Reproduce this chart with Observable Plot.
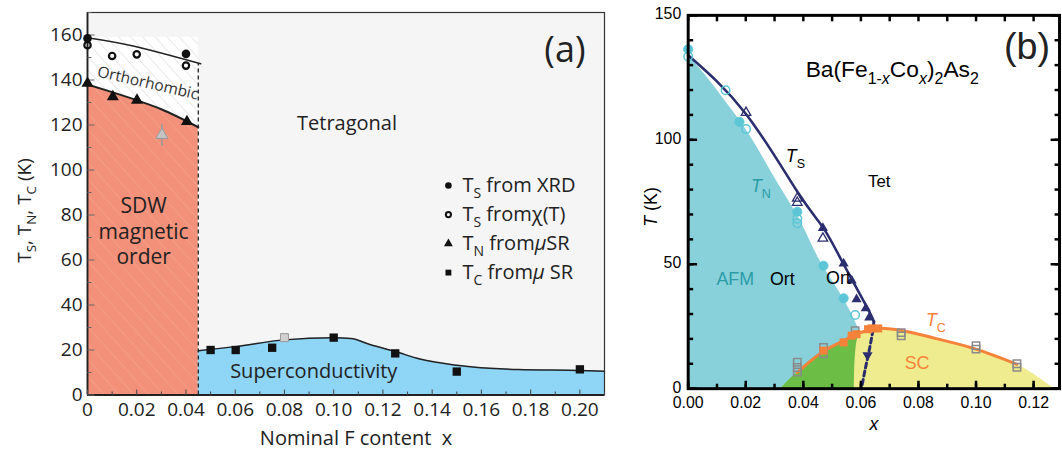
<!DOCTYPE html>
<html>
<head>
<meta charset="utf-8">
<script src="https://cdn.jsdelivr.net/npm/d3@7"></script>
<script src="https://cdn.jsdelivr.net/npm/@observablehq/plot@0.6"></script>
<style>
  html, body { margin: 0; padding: 0; background: #fff; overflow: hidden; width: 1062px; height: 452px; }
  #panel-a { position: absolute; left: 0; top: 0; }
  #panel-b { position: absolute; left: 620px; top: 0; }
</style>
</head>
<body>
<div id="panel-a"></div>
<div id="panel-b"></div>
<script>
// ---------------- Panel (a): nominal F content ----------------
// measured transition temperatures [x, T]
const tsXrdA   = [[0, 158.5], [0.04, 151.6]];
const tsChiA   = [[0, 155.5], [0.01, 150.7], [0.02, 151.4], [0.04, 146.4]];
const tnMuSrA  = [[0, 138.5], [0.0103, 132.6], [0.0201, 131], [0.0404, 121.5]];
const tnGrayA  = [[0.0302, 115.6, 110.4, 120.2]];   // x, T, lower, upper
const tcMuSrA  = [[0.05, 20], [0.0602, 20], [0.075, 21], [0.1, 25.5], [0.125, 18.5], [0.15, 10.4], [0.2, 11.4]];
const tcGrayA  = [[0.08, 25.5]];
// phase boundaries [x, T]
const tsLineA  = [[0, 158.8], [0.019, 155], [0.046, 147.2]];
const tnLineA  = [[0, 138], [0.01, 134.6], [0.02, 131], [0.03, 127], [0.045, 119]];
const tcLineA  = [[0.045, 19.7], [0.06, 21.5], [0.08, 24.5], [0.1, 25.4], [0.107, 25.1], [0.115, 22.3],
                  [0.125, 19.3], [0.135, 16], [0.15, 13.2], [0.175, 11.3], [0.2, 10.9], [0.21, 10.6]];
const sdwLimitA = 0.045;   // end of the magnetic region
const orthoTopA = 159;     // top of the orthorhombic region
const legendLabelsA = ["T_{S} from XRD", "T_{S} fromχ(T)", "T_{N} from*μ*SR", "T_{C} from*μ* SR"];
const legendSymbolsA = ["circle", "circle", "triangle", "square"];
const xTicksA = d3.range(0, 0.2001, 0.02);
const yTicksA = d3.range(0, 161, 20);

// ---------------- Panel (b): Ba(Fe1-xCox)2As2 ----------------
const tsLineB   = [[0, 134], [0.02, 110.5], [0.038, 79], [0.047, 64.5], [0.054, 50], [0.062, 33], [0.0645, 27]];
const tsDashB   = [[0.0645, 27], [0.0643, 24.6], [0.0631, 16.6], [0.0614, 7.3], [0.0602, 0]];
const tnEdgeB   = [[0, 0.0577], [8, 0.0578], [15, 0.0583], [22, 0.0597], [25, 0.0588], [28.6, 0.0574],
                   [37.2, 0.0534], [51.2, 0.0459], [68.4, 0.0385], [81.7, 0.0316], [108, 0.0178],
                   [116, 0.0126], [125.5, 0.0063], [134, 0]];            // [T, x]
const scDomeB   = [[0.0321, 0], [0.0379, 6.5], [0.047, 15], [0.054, 19.3], [0.0585, 21.9], [0.063, 23.6],
                   [0.067, 24.3], [0.074, 23.4], [0.0866, 20], [0.1, 15.9], [0.1142, 9.8], [0.1272, 0]];
const tcLineB   = scDomeB.slice(1, -1);
const coexB     = [[0, 0.0321, 0.0577], [6.5, 0.0379, 0.0578], [15, 0.047, 0.0582], [19.3, 0.054, 0.0587],
                   [21.9, 0.0585, 0.0594], [22.6, 0.0597, 0.0597]];   // [T, xLeft, xRight]
const tsUpFilledB = [[0.0468, 64.5], [0.054, 50.3], [0.0568, 43.4], [0.0585, 35.9], [0.0617, 32.3], [0.0629, 28.6]];
const tsUpOpenB   = [[0.0201, 110.9], [0.0379, 76.5], [0.0379, 74.8], [0.0468, 60.4]];
const tsDownB     = [[0.0623, 13.5]];
const tnFilledB   = [[0, 136.4], [0.0178, 107.2], [0.0379, 71.1], [0.047, 49.4], [0.054, 36.3]];
const tnOpenB     = [[0, 133.5], [0.013, 119.9], [0.0201, 104.3], [0.0379, 68.3], [0.0379, 66.5], [0.058, 29.6]];
const tcFilledB   = [[0.047, 15.3], [0.054, 18.6], [0.0568, 21.3], [0.0585, 21.9], [0.0625, 23.9], [0.0637, 24.2], [0.066, 24.2]];
const tcOpenB     = [[0.0379, 10.6], [0.0379, 8.5], [0.0379, 6.7], [0.047, 16.6], [0.047, 14], [0.058, 23.3],
                     [0.074, 22.5], [0.074, 21.2], [0.1, 17.3], [0.1, 15.9], [0.1142, 10], [0.1142, 8.6]];
const xTicksB = d3.range(0, 0.1201, 0.02);
const yTicksB = [0, 50, 100, 150];

// ---------------- helpers ----------------
const X = d => d[0], Y = d => d[1];
// short stroke drawn from the anchor point, used for inward axis ticks
const tickMark = (dx, dy) => ({ draw(ctx) { ctx.moveTo(0, 0); ctx.lineTo(dx, dy); } });

// turns "*italic*" and "_{sub}" markup in text nodes into tspans
function richText(svg) {
  const NS = "http://www.w3.org/2000/svg";
  d3.select(svg).selectAll("text").each(function () {
    const el = this;
    if (el.querySelector("tspan")) return;
    const s = el.textContent;
    if (!/[*]|_\{/.test(s)) return;
    const fs = parseFloat(getComputedStyle(el).fontSize);
    const runs = []; let sub = false, it = false, buf = "";
    const push = () => { if (buf) runs.push({ t: buf, sub, it }); buf = ""; };
    for (let i = 0; i < s.length; i++) {
      const c = s[i];
      if (c === "_" && s[i + 1] === "{") { push(); sub = true; i++; }
      else if (c === "}" && sub) { push(); sub = false; }
      else if (c === "*") { push(); it = !it; }
      else buf += c;
    }
    push();
    el.textContent = "";
    let shift = 0;
    for (const r of runs) {
      const target = r.sub ? 0.3 * fs : 0;
      const ts = document.createElementNS(NS, "tspan");
      if (target !== shift) ts.setAttribute("dy", target - shift);
      shift = target;
      if (r.sub) ts.setAttribute("font-size", 0.7 * fs);
      if (r.it) ts.setAttribute("font-style", "italic");
      ts.textContent = r.t;
      el.appendChild(ts);
    }
  });
}

function addHatch(svg, id, color, spacing, width) {
  let defs = d3.select(svg).select("defs");
  if (defs.empty()) defs = d3.select(svg).insert("defs", ":first-child");
  const p = defs.append("pattern").attr("id", id)
    .attr("patternUnits", "userSpaceOnUse")
    .attr("width", spacing).attr("height", spacing)
    .attr("patternTransform", "rotate(-42)");
  p.append("line").attr("x1", 0).attr("y1", 0).attr("x2", 0).attr("y2", spacing)
    .attr("stroke", color).attr("stroke-width", width);
}

// ---------------- draw panel (a) ----------------
const salmon = "#f3907a", sky = "#8fd5f5";
const legendX = 0.1466, legendTop = 93.1, legendStep = 12.9;
const legendRows = legendLabelsA.map((label, i) => ({ label, symbol: legendSymbolsA[i], y: legendTop - i * legendStep }));

const plotA = Plot.plot({
  width: 620, height: 452,
  marginLeft: 87, marginRight: 16, marginTop: 12, marginBottom: 57.5,
  x: { domain: [0, 0.21] },
  y: { domain: [0, 170] },
  style: { fontFamily: "'Open Sans', sans-serif", fontSize: "19px", color: "#222", background: "transparent" },
  marks: [
    Plot.frame({ fill: "#f5f5f5" }),
    // orthorhombic region with hatch
    Plot.rect([null], { x1: 0, x2: sdwLimitA, y1: 0, y2: orthoTopA, fill: "white" }),
    Plot.rect([null], { x1: 0, x2: sdwLimitA, y1: 0, y2: orthoTopA, fill: "url(#hatch-ortho)" }),
    // SDW magnetic region
    Plot.areaY(tnLineA, { x: X, y: Y, fill: salmon, curve: "monotone-x" }),
    Plot.areaY(tnLineA, { x: X, y: Y, fill: "url(#hatch-sdw)", curve: "monotone-x" }),
    // superconducting region
    Plot.areaY(tcLineA, { x: X, y: Y, fill: sky, curve: "monotone-x" }),
    // boundaries
    Plot.line(tsLineA, { x: X, y: Y, stroke: "#222", strokeWidth: 1.5, curve: "natural" }),
    Plot.line(tnLineA, { x: X, y: Y, stroke: "#222", strokeWidth: 2, curve: "monotone-x" }),
    Plot.line(tcLineA, { x: X, y: Y, stroke: "#222", strokeWidth: 1.5, curve: "monotone-x" }),
    Plot.ruleX([sdwLimitA], { y1: 0, y2: tsLineA[tsLineA.length - 1][1], stroke: "#222", strokeWidth: 1.3, strokeDasharray: "4,3" }),
    // frame and axis lines
    Plot.frame({ stroke: "#333", strokeWidth: 1.2 }),
    Plot.ruleX([0], { stroke: "#222", strokeWidth: 1.8 }),
    Plot.ruleY([0], { stroke: "#222", strokeWidth: 1.8 }),
    // inward ticks
    Plot.dot(d3.range(0, 171, 20), { y: d => d, frameAnchor: "left", symbol: tickMark(7, 0), fill: "none", stroke: "#666", strokeWidth: 1 }),
    Plot.dot(d3.range(10, 171, 20), { y: d => d, frameAnchor: "left", symbol: tickMark(4, 0), fill: "none", stroke: "#666", strokeWidth: 1 }),
    Plot.dot(d3.range(0, 0.2101, 0.02), { x: d => d, frameAnchor: "bottom", symbol: tickMark(0, -5.5), fill: "none", stroke: "#444", strokeWidth: 1 }),
    Plot.dot(d3.range(0.01, 0.2101, 0.02), { x: d => d, frameAnchor: "bottom", symbol: tickMark(0, -3.5), fill: "none", stroke: "#444", strokeWidth: 1 }),
    // tick labels
    Plot.axisY({ ticks: yTicksA, tickSize: 0, tickPadding: 5, label: null, fontSize: 19 }),
    Plot.axisX({ ticks: xTicksA, tickSize: 0, tickPadding: 7, label: null, fontSize: 19,
                 tickFormat: d => d === 0 ? "0" : d.toFixed(2) }),
    // data points
    Plot.ruleX(tnGrayA, { x: X, y1: d => d[2], y2: d => d[3], stroke: "#999", strokeWidth: 1.5 }),
    Plot.dot(tnGrayA, { x: X, y: Y, symbol: "triangle", r: 4.5, fill: "#c4c4c4", stroke: "#999", strokeWidth: 1 }),
    Plot.dot(tcGrayA, { x: X, y: Y, symbol: "square", r: 4.5, fill: "#d0d0d0", stroke: "#999", strokeWidth: 1 }),
    Plot.dot(tsXrdA, { x: X, y: Y, symbol: "circle", r: 4.3, fill: "#111" }),
    Plot.dot(tsChiA, { x: X, y: Y, symbol: "circle", r: 3.2, fill: "none", stroke: "#111", strokeWidth: 2.2 }),
    Plot.dot(tnMuSrA, { x: X, y: Y, symbol: "triangle", r: 4.5, fill: "#111" }),
    Plot.dot(tcMuSrA, { x: X, y: Y, symbol: "square", r: 4.7, fill: "#111" }),
    // legend
    Plot.dot(legendRows.filter((d, i) => i !== 1), { x: legendX, y: "y", symbol: "symbol", r: 3.3, fill: "#111" }),
    Plot.dot(legendRows.filter((d, i) => i === 1), { x: legendX, y: "y", symbol: "circle", r: 2.6, fill: "none", stroke: "#111", strokeWidth: 2 }),
    Plot.text(legendRows, { x: legendX + 0.0057, y: "y", text: "label", textAnchor: "start", fontSize: 20, fill: "#222" }),
    // region labels
    Plot.text(["Tetragonal"], { x: 0.0851, y: 120.8, textAnchor: "start", fontSize: 20, fill: "#222" }),
    Plot.text(["(a)"], { x: 0.2023, y: 153, textAnchor: "end", fontSize: 36, fill: "#222" }),
    Plot.text(["Orthorhombic"], { x: 0.0245, y: 138.6, rotate: 13, fontSize: 15.5, fill: "#333" }),
    Plot.text(["SDW\nmagnetic\norder"], { x: 0.0228, y: 73.2, fontSize: 21, lineHeight: 1.22, fill: "#222" }),
    Plot.text(["Superconductivity"], { x: 0.0919, y: 10.2, fontSize: 20, fill: "#222" }),
    // axis titles
    Plot.text(["Nominal F content  x"], { frameAnchor: "bottom", lineAnchor: "middle", dx: 10, dy: 43.5, fontSize: 20, fill: "#222" }),
    Plot.text(["T_{S}, T_{N}, T_{C} (K)"], { y: 82, frameAnchor: "left", textAnchor: "middle", lineAnchor: "middle", rotate: -90, dx: -63, fontSize: 19, fill: "#222" })
  ]
});
document.getElementById("panel-a").appendChild(plotA);
addHatch(plotA, "hatch-ortho", "#c9c9c9", 9, 0.8);
addHatch(plotA, "hatch-sdw", "#f6a790", 11, 1.1);
richText(plotA);

// ---------------- draw panel (b) ----------------
const cyan = "#88d1da", green = "#6bbd45", yellow = "#eeec8e", navy = "#2b2e6e", orange = "#f5823a",
      teal = "#2a9ca8", circ = "#5cc6d6", grayBox = "#8a8a8a";

const plotB = Plot.plot({
  width: 446, height: 452,
  marginLeft: 68.3, marginRight: 3, marginTop: 15, marginBottom: 60.3,
  x: { domain: [0, 0.129] },
  y: { domain: [0, 150] },
  style: { fontFamily: "'Liberation Sans', Arial, sans-serif", fontSize: "16px", color: "#000", background: "transparent" },
  marks: [
    // phase regions
    Plot.areaX(tnEdgeB, { y: X, x: Y, fill: cyan, curve: "monotone-y" }),
    Plot.areaY(scDomeB, { x: X, y: Y, fill: yellow, curve: "monotone-x" }),
    Plot.areaX(coexB, { y: d => d[0], x1: d => d[1], x2: d => d[2], fill: green, curve: "monotone-y" }),
    // boundaries
    Plot.line(tcLineB, { x: X, y: Y, stroke: orange, strokeWidth: 3, curve: "monotone-x" }),
    Plot.line(tsLineB, { x: X, y: Y, stroke: navy, strokeWidth: 2.6, curve: "natural" }),
    Plot.line(tsDashB, { x: X, y: Y, stroke: navy, strokeWidth: 3, strokeDasharray: "5,3.5", curve: "catmull-rom" }),
    // data points
    Plot.dot(tnOpenB, { x: X, y: Y, symbol: "circle", r: 4.3, fill: "none", stroke: circ, strokeWidth: 1.5 }),
    Plot.dot(tnFilledB, { x: X, y: Y, symbol: "circle", r: 4.6, fill: circ, stroke: circ, strokeWidth: 1 }),
    Plot.dot(tcOpenB, { x: X, y: Y, symbol: "square", r: 4.2, fill: "none", stroke: grayBox, strokeWidth: 1.5 }),
    Plot.dot(tcFilledB, { x: X, y: Y, symbol: "square", r: 4.6, fill: orange }),
    Plot.dot(tsUpOpenB, { x: X, y: Y, symbol: "triangle", r: 3.6, fill: "none", stroke: navy, strokeWidth: 1.3 }),
    Plot.dot(tsUpFilledB, { x: X, y: Y, symbol: "triangle", r: 3.8, fill: navy }),
    Plot.dot(tsDownB, { x: X, y: Y, symbol: "triangle", rotate: 180, r: 3.8, fill: navy }),
    // frame and inward ticks
    Plot.frame({ stroke: "#000", strokeWidth: 3 }),
    Plot.dot(d3.range(0, 151, 10), { y: d => d, frameAnchor: "left", symbol: tickMark(5, 0), fill: "none", stroke: "#000", strokeWidth: 2.5 }),
    Plot.dot(yTicksB, { y: d => d, frameAnchor: "left", symbol: tickMark(9, 0), fill: "none", stroke: "#000", strokeWidth: 2.5 }),
    Plot.dot(d3.range(0, 151, 10), { y: d => d, frameAnchor: "right", symbol: tickMark(-5, 0), fill: "none", stroke: "#000", strokeWidth: 2.5 }),
    Plot.dot(yTicksB, { y: d => d, frameAnchor: "right", symbol: tickMark(-9, 0), fill: "none", stroke: "#000", strokeWidth: 2.5 }),
    Plot.dot(d3.range(0, 0.1281, 0.01), { x: d => d, frameAnchor: "bottom", symbol: tickMark(0, -5), fill: "none", stroke: "#000", strokeWidth: 2.5 }),
    Plot.dot(xTicksB, { x: d => d, frameAnchor: "bottom", symbol: tickMark(0, -8), fill: "none", stroke: "#000", strokeWidth: 2.5 }),
    Plot.dot(d3.range(0, 0.1281, 0.01), { x: d => d, frameAnchor: "top", symbol: tickMark(0, 6), fill: "none", stroke: "#000", strokeWidth: 2.5 }),
    // tick labels
    Plot.axisY({ ticks: yTicksB, tickSize: 0, tickPadding: 7, label: null, fontSize: 16, dy: -1 }),
    Plot.axisX({ ticks: xTicksB, tickSize: 0, tickPadding: 8, label: null, fontSize: 16, tickFormat: d3.format(".2f") }),
    // labels
    Plot.text(["Ba(Fe_{1-*x*}Co_{*x*})_{2}As_{2}"], { x: 0.0408, y: 128, textAnchor: "start", fontSize: 23 }),
    Plot.text(["(b)"], { x: 0.1097, y: 137.2, textAnchor: "start", fontSize: 38, fill: "#222" }),
    Plot.text(["*T*_{S}"], { x: 0.0339, y: 93.3, textAnchor: "start", fontSize: 18 }),
    Plot.text(["*T*_{N}"], { x: 0.0218, y: 81.2, textAnchor: "start", fontSize: 18, fill: teal }),
    Plot.text(["Tet"], { x: 0.0625, y: 83.2, textAnchor: "start", fontSize: 17 }),
    Plot.text(["AFM"], { x: 0.0098, y: 44, textAnchor: "start", fontSize: 18, fill: teal }),
    Plot.text(["Ort"], { x: 0.0284, y: 44, textAnchor: "start", fontSize: 18 }),
    Plot.text(["Ort"], { x: 0.0479, y: 44.5, textAnchor: "start", fontSize: 18 }),
    Plot.text(["*T*_{C}"], { x: 0.0826, y: 27.4, textAnchor: "start", fontSize: 18, fill: orange }),
    Plot.text(["SC"], { x: 0.0752, y: 10.4, textAnchor: "start", fontSize: 18, fill: orange }),
    // axis titles
    Plot.text(["*x*"], { frameAnchor: "bottom", lineAnchor: "middle", dy: 36, fontSize: 18 }),
    Plot.text(["*T* (K)"], { y: 73, frameAnchor: "left", textAnchor: "middle", lineAnchor: "middle", rotate: -90, dx: -37, fontSize: 18 })
  ]
});
document.getElementById("panel-b").appendChild(plotB);
richText(plotB);
</script>
</body>
</html>
